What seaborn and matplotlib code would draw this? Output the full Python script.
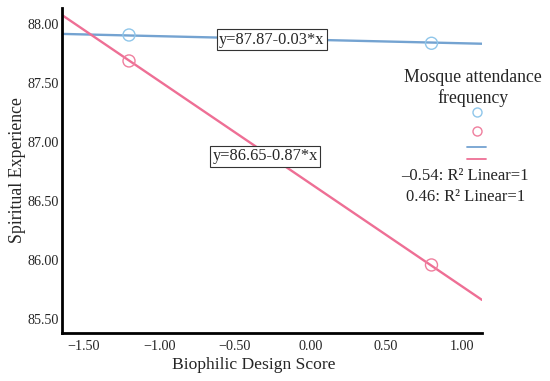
import numpy as np
import pandas as pd
import matplotlib
matplotlib.use("Agg")
import matplotlib.pyplot as plt
import seaborn as sns
from matplotlib.lines import Line2D

# Data
groups = ["-0.54", "0.46"]
point_x = [-1.20, 0.80]
blue_y = [87.91, 87.84]
pink_y = [87.69, 85.96]
intercepts = [87.87, 86.65]
slopes = [-0.03, -0.87]
eq_labels = ["y=87.87-0.03*x", "y=86.65-0.87*x"]
legend_title = ["Mosque attendance", "frequency"]
legend_labels = ["\u20130.54: R\u00b2 Linear=1", "0.46: R\u00b2 Linear=1"]
xticks = [-1.50, -1.00, -0.50, 0.00, 0.50, 1.00]
yticks = [85.50, 86.00, 86.50, 87.00, 87.50, 88.00]

line_colors = ["#74a3d1", "#ee6f95"]
marker_colors = ["#8fc6ea", "#ef7f9e"]

sns.set_style("white")
plt.rcParams["font.family"] = ["Liberation Serif", "DejaVu Serif"]

fig = plt.figure(figsize=(5.5, 3.81), dpi=100)
ax = fig.add_axes([62 / 550, 48 / 381, 420 / 550, 325 / 381])
xlim = (-1.643, 1.134)
ylim = (85.383, 88.139)

# regression lines
xs = np.array(xlim)
for b0, b1, c in zip(intercepts, slopes, line_colors):
    dfl = pd.DataFrame({"x": xs, "y": b0 + b1 * xs})
    sns.lineplot(data=dfl, x="x", y="y", ax=ax, color=c, lw=1.7)

# points
dfp = pd.DataFrame({"x": point_x * 2, "y": blue_y + pink_y,
                    "g": [groups[0]] * 2 + [groups[1]] * 2})
for g, c in zip(groups, marker_colors):
    sub = dfp[dfp.g == g]
    ax.scatter(sub.x, sub.y, s=75, facecolors="none", edgecolors=c, linewidths=1.0, zorder=3)

# equation labels
ax.text(-0.255, 87.87, eq_labels[0], ha="center", va="center", fontsize=11.8,
        bbox=dict(boxstyle="square,pad=0.15", fc="white", ec="#333333", lw=0.8), zorder=5)
ax.text(-0.30, 86.88, eq_labels[1], ha="center", va="center", fontsize=11.8,
        bbox=dict(boxstyle="square,pad=0.15", fc="white", ec="#333333", lw=0.8), zorder=5)

ax.set_xlim(*xlim)
ax.set_ylim(*ylim)
ax.set_xticks(xticks)
ax.set_yticks(yticks)
ax.set_xticklabels([f"{v:.2f}".replace("-", "\u2212") for v in xticks], fontsize=10.2)
ax.set_yticklabels([f"{v:.2f}" for v in yticks], fontsize=10.2)
ax.tick_params(axis="y", length=0, pad=2)
ax.tick_params(axis="x", length=0, pad=5)
ax.set_xlabel("Biophilic Design Score", fontsize=12.6)
ax.xaxis.set_label_coords(0.457, -0.075)
ax.set_ylabel("Spiritual Experience", fontsize=12.8, labelpad=1)
for s in ["top", "right"]:
    ax.spines[s].set_visible(False)
for s in ["left", "bottom"]:
    ax.spines[s].set_color("black")
    ax.spines[s].set_linewidth(2.0)

# manual legend
W, H = 550, 381
def fx(p): return p / W
def fy(p): return 1 - p / H
fig.text(fx(473), fy(78), legend_title[0], ha="center", va="center", fontsize=12.8)
fig.text(fx(473), fy(98), legend_title[1], ha="center", va="center", fontsize=12.8)
fig.add_artist(Line2D([fx(477)], [fy(112)], marker="o", ms=6.5, mfc="none",
                      mec=marker_colors[0], mew=1.0, ls="none"))
fig.add_artist(Line2D([fx(477)], [fy(131)], marker="o", ms=6.5, mfc="none",
                      mec=marker_colors[1], mew=1.0, ls="none"))
fig.add_artist(Line2D([fx(467), fx(486)], [fy(147), fy(147)], color=line_colors[0], lw=1.3))
fig.add_artist(Line2D([fx(467), fx(486)], [fy(159), fy(159)], color=line_colors[1], lw=1.3))
fig.text(fx(465), fy(176), legend_labels[0], ha="center", va="center", fontsize=12)
fig.text(fx(466), fy(197), legend_labels[1], ha="center", va="center", fontsize=12)

fig.savefig("out.png", dpi=100)
